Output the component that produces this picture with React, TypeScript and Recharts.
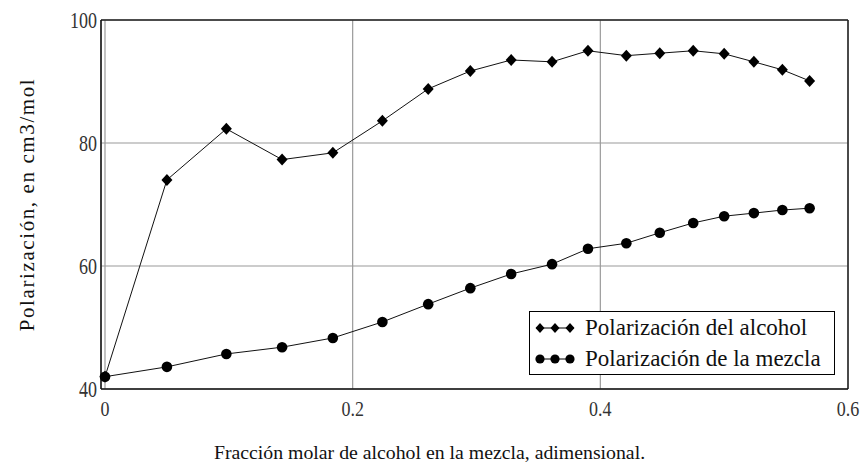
import React from 'react';
import { LineChart, Line, XAxis, YAxis, CartesianGrid, ReferenceLine, Legend } from 'recharts';

const fraccion = [0, 0.05, 0.098, 0.143, 0.184, 0.224, 0.261, 0.295, 0.328, 0.361, 0.39, 0.421, 0.448, 0.475, 0.5, 0.524, 0.547, 0.569];
const polAlcohol = [42.0, 74.0, 82.3, 77.3, 78.4, 83.6, 88.8, 91.7, 93.5, 93.2, 95.0, 94.2, 94.6, 95.0, 94.5, 93.2, 91.9, 90.1];
const polMezcla = [42.0, 43.6, 45.7, 46.8, 48.3, 50.9, 53.8, 56.4, 58.7, 60.3, 62.8, 63.7, 65.4, 67.0, 68.1, 68.6, 69.1, 69.4];
const xTicks = [0, 0.2, 0.4, 0.6];
const yTicks = [40, 60, 80, 100];
const serieAlcohol = 'Polarización del alcohol';
const serieMezcla = 'Polarización de la mezcla';
const tituloX = 'Fracción molar de alcohol en la mezcla, adimensional.';
const tituloY = 'Polarización, en cm3/mol';

const data = fraccion.map((x, i) => ({ x, alcohol: polAlcohol[i], mezcla: polMezcla[i] }));

const FONT = "'Liberation Serif', 'Times New Roman', serif";

const Diamond = (props: any) => {
  const { cx, cy, index } = props;
  if (cx == null || cy == null) return null;
  return <path key={`d${index}`} d={`M${cx},${cy - 6}L${cx + 5.5},${cy}L${cx},${cy + 6}L${cx - 5.5},${cy}Z`} fill="#000" />;
};

const Circle = (props: any) => {
  const { cx, cy, index } = props;
  if (cx == null || cy == null) return null;
  return <circle key={`c${index}`} cx={cx} cy={cy} r={5.3} fill="#000" />;
};

const XTick = (props: any) => {
  const { x, y, payload } = props;
  return (
    <g transform={`translate(${x},${y}) scale(1,1.2)`}>
      <text x={0} y={0} dy="0.8em" textAnchor="middle" fontFamily={FONT} fontSize={18} fill="#333">
        {String(payload.value)}
      </text>
    </g>
  );
};

const YTick = (props: any) => {
  const { x, y, payload } = props;
  return (
    <g transform={`translate(${x},${y}) scale(1,1.25)`}>
      <text x={0} y={0} dy="0.35em" textAnchor="end" fontFamily={FONT} fontSize={18} fill="#333">
        {String(payload.value)}
      </text>
    </g>
  );
};

const LegendBox = () => {
  const row = (kind: 'd' | 'c', text: string) => (
    <div style={{ display: 'flex', alignItems: 'center', height: 31 }}>
      <svg width={46} height={16} style={{ marginRight: 6 }}>
        <line x1={3} y1={8} x2={41} y2={8} stroke="#000" strokeWidth={1} />
        {[7, 22, 37].map((x) =>
          kind === 'd' ? (
            <path key={x} d={`M${x},${3}L${x + 4.5},8L${x},13L${x - 4.5},8Z`} fill="#000" />
          ) : (
            <circle key={x} cx={x} cy={8} r={4.6} fill="#000" />
          )
        )}
      </svg>
      <span style={{ whiteSpace: 'nowrap' }}>{text}</span>
    </div>
  );
  return (
    <div
      style={{
        width: 301,
        height: 62,
        border: '1px solid #000',
        background: '#fff',
        fontFamily: FONT,
        fontSize: 23,
        lineHeight: '31px',
        color: '#111',
        paddingLeft: 3,
        boxSizing: 'content-box',
        textAlign: 'left',
        overflow: 'hidden',
      }}
    >
      {row('d', serieAlcohol)}
      {row('c', serieMezcla)}
    </div>
  );
};

export default function App() {
  return (
    <div style={{ position: 'absolute', left: 0, top: 0, background: '#fff', fontFamily: FONT }}>
      <LineChart width={868} height={471} data={data} margin={{ top: 20, right: 20, bottom: 0, left: 0 }}>
        <CartesianGrid stroke="#9a9a9a" strokeWidth={1.2} />
        <XAxis
          dataKey="x"
          type="number"
          domain={[0, 0.6]}
          ticks={xTicks}
          padding={{ left: 4, right: 0 }}
          height={82}
          tickSize={0}
          tickMargin={10}
          tickLine={false}
          axisLine={{ stroke: '#111', strokeWidth: 1.5 }}
          tick={<XTick />}
          label={{ value: tituloX, position: 'center', dx: -45, dy: 22, fontFamily: FONT, fontSize: 19.8, fill: '#111' }}
        />
        <YAxis
          type="number"
          domain={[40, 100]}
          ticks={yTicks}
          width={101}
          tickSize={0}
          tickMargin={4}
          tickLine={false}
          axisLine={{ stroke: '#111', strokeWidth: 1.5 }}
          tick={<YTick />}
          label={{
            value: tituloY,
            angle: -90,
            position: 'center',
            dx: -24,
            fontFamily: FONT,
            fontSize: 21,
            letterSpacing: 1.6,
            fill: '#111',
          }}
        />
        <ReferenceLine y={100} stroke="#222" strokeWidth={1.5} />
        <ReferenceLine x={0.6} stroke="#222" strokeWidth={1.5} />
        <Line
          type="linear"
          dataKey="alcohol"
          name={serieAlcohol}
          stroke="#111"
          strokeWidth={1}
          dot={Diamond}
          activeDot={false}
          isAnimationActive={false}
        />
        <Line
          type="linear"
          dataKey="mezcla"
          name={serieMezcla}
          stroke="#111"
          strokeWidth={1}
          dot={Circle}
          activeDot={false}
          isAnimationActive={false}
        />
        <Legend
          content={() => <LegendBox />}
          layout="horizontal"
          verticalAlign="middle"
          align="center"
          wrapperStyle={{ left: 529, top: 311, width: 306, height: 64 }}
        />
      </LineChart>
    </div>
  );
}
